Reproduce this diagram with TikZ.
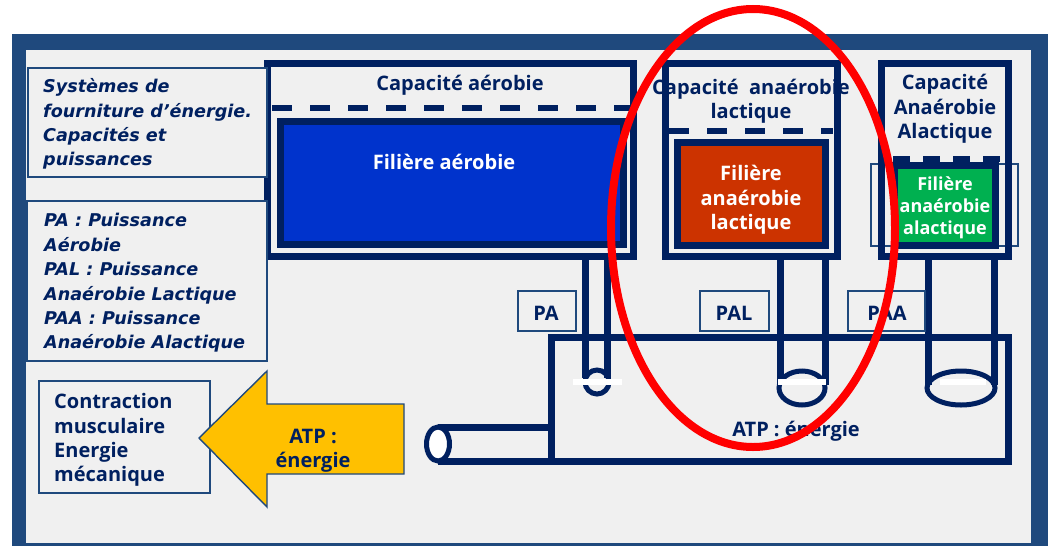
\documentclass[tikz,border=0pt]{standalone}
\usepackage{fontspec}
\setmainfont{Open Sans}
\newfontfamily\titrefont{DejaVu Sans}
\definecolor{cadre}{HTML}{1F497D}
\definecolor{fond}{HTML}{F0F0F0}
\definecolor{marine}{HTML}{002060}
\definecolor{bleuf}{HTML}{0033CC}
\definecolor{rougef}{HTML}{CC3300}
\definecolor{vertf}{HTML}{00B050}
\definecolor{jaunef}{HTML}{FFC000}
\tikzset{
	texte/.style={font=\fontsize{20}{24.4}\selectfont\bfseries, text=marine, align=center, inner sep=0pt},
	titre/.style={texte, align=left, anchor=west, font=\titrefont\fontsize{17.6}{24.4}\selectfont\bfseries\itshape},
	blanc/.style={texte, text=white},
	legende/.style={draw=cadre, fill=fond, line width=1.4pt},
	paroi/.style={draw=marine, line width=7pt},
	tiret/.style={draw=marine, line width=6pt, dash pattern=on 20pt off 18pt},
	barre/.style={fill=white, draw=none}
}
\begin{document}
\begin{tikzpicture} [x=1pt,y=-1pt]
	\useasboundingbox (0,0) rectangle (1048,546);
	%\draw[help lines] (0,0) grid (1048,546);
	\fill[cadre] (12,34) rectangle (1048,546);
	\fill[fond] (26,50) rectangle (1031,543);
	% capacites
	\draw[paroi] (267,63) rectangle (633,256);
	\draw[tiret] (272,108) -- (630,108);
	\draw[paroi, fill=bleuf] (280,121) rectangle (623,244);
	\draw[paroi] (665,63) rectangle (837,256);
	\draw[tiret] (669,131) -- (833,131);
	\draw[paroi, fill=rougef] (677,142) rectangle (825,245);
	\draw[legende] (871,164) rectangle (1018,246);
	\draw[paroi] (881,63) rectangle (1008,256);
	\draw[tiret, dash pattern=on 17pt off 13pt] (893,159) -- (1005,159);
	\draw[paroi, fill=vertf] (894,165) rectangle (995,245);
	% reservoir ATP
	\draw[paroi] (438,427) -- (551,427);
	\draw[paroi] (438,461) -- (1008,461) -- (1008,337) -- (551,337) -- (551,461);
	\draw[draw=marine, line width=5pt, fill=white] (438,444) ellipse [x radius=11.5, y radius=17];
	% tubes
	\draw[paroi] (585,257) -- (585,378);
	\draw[paroi] (607,257) -- (607,378);
	\draw[draw=marine, line width=5pt] (597,382) circle [radius=12];
	\fill[barre] (573,379) rectangle (622,385);
	\draw[paroi] (780,257) -- (780,385);
	\draw[paroi] (825,257) -- (825,385);
	\draw[draw=marine, line width=5pt] (802,388) ellipse [x radius=23, y radius=17];
	\fill[barre] (778,379) rectangle (826,385);
	\draw[paroi] (928,257) -- (928,385);
	\draw[paroi] (994,257) -- (994,385);
	\draw[draw=marine, line width=5pt] (961,388) ellipse [x radius=34, y radius=17];
	\fill[barre] (940,379) rectangle (986,385);
	% legendes
	\draw[legende] (28,68) rectangle (267,177);
	\node[titre] (systemes) at (43,124) {Systèmes de\\fourniture d’énergie.\\Capacités et\\puissances};
	\draw[legende] (27,201) rectangle (267,361);
	\node[titre] (puissances) at (44,283) {PA : Puissance\\Aérobie\\PAL : Puissance\\Anaérobie Lactique\\PAA : Puissance\\Anaérobie Alactique};
	\draw[legende] (39,381) rectangle (210,493);
	\node[texte, align=left, anchor=west] (contraction) at (54,440) {Contraction\\musculaire\\Energie\\mécanique};
	\draw[legende, fill=jaunef] (199,438) -- (267,371) -- (267,404) -- (404,404) -- (404,474) -- (267,474) -- (267,507) -- cycle;
	\node[texte] (atpfleche) at (313,451) {ATP :\\énergie};
	\draw[legende] (518,291) rectangle (576,331);
	\node[texte] (pa) at (546,313) {PA};
	\draw[legende] (700,291) rectangle (769,331);
	\node[texte] (pal) at (734,313) {PAL};
	\draw[legende] (848,291) rectangle (925,331);
	\node[texte] (paa) at (887,313) {PAA};
	% textes des capacites
	\node[texte] (capaerobie) at (460,85) {Capacité aérobie};
	\node[texte] (caplactique) at (751,101) {Capacité\ \ anaérobie\\lactique};
	\node[texte] (capalactique) at (945,109) {Capacité\\Anaérobie\\Alactique};
	\node[blanc] (filaerobie) at (444,162) {Filière aérobie};
	\node[blanc] (fillactique) at (751,200) {Filière\\anaérobie\\lactique};
	\node[blanc, font=\fontsize{18}{22}\selectfont\bfseries] (filalactique) at (945,208) {Filière\\anaérobie\\alactique};
	\node[texte] (atpenergie) at (796,431) {ATP : énergie};
	% cercle rouge
	\draw[red, line width=8pt] (753,228) ellipse [x radius=142, y radius=219];
\end{tikzpicture}
\end{document}
